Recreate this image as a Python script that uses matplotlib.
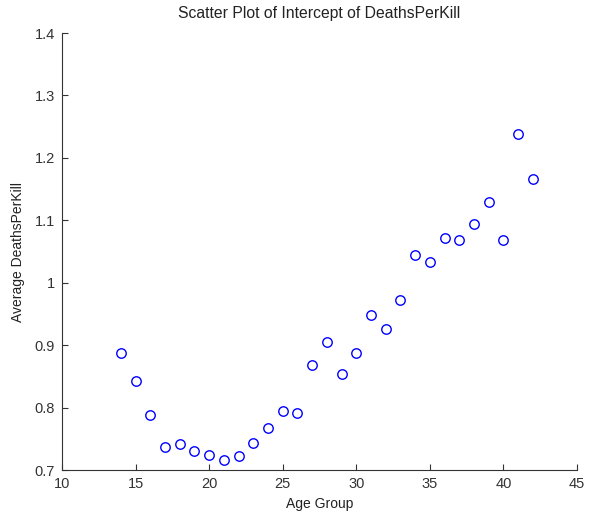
import numpy as np
import matplotlib
matplotlib.use('Agg')
import matplotlib.pyplot as plt

# datos
age = [14, 15, 16, 17, 18, 19, 20, 21, 22, 23, 24, 25, 26, 27, 28,
       29, 30, 31, 32, 33, 34, 35, 36, 37, 38, 39, 40, 41, 42]
deaths = [0.887, 0.843, 0.788, 0.737, 0.742, 0.731, 0.724, 0.716, 0.722,
          0.743, 0.768, 0.795, 0.791, 0.869, 0.905, 0.854, 0.887, 0.948,
          0.926, 0.972, 1.045, 1.033, 1.071, 1.068, 1.094, 1.129, 1.068,
          1.239, 1.166]
xticks = [10, 15, 20, 25, 30, 35, 40, 45]
yticks = [0.7, 0.8, 0.9, 1.0, 1.1, 1.2, 1.3, 1.4]
yticklabels = ['0.7', '0.8', '0.9', '1', '1.1', '1.2', '1.3', '1.4']

plt.rcParams['font.family'] = ['Liberation Sans', 'DejaVu Sans']
plt.rcParams['font.size'] = 10

fig = plt.figure(figsize=(5.9, 5.12), dpi=100)
ax = fig.add_axes([0.105, 0.082, 0.873, 0.8535])

ax.plot(age, deaths, 'o', markerfacecolor='none', markeredgecolor='#0000ff',
        markersize=6.8, markeredgewidth=1.0)

ax.set_xlim(10, 45)
ax.set_ylim(0.7, 1.4)
ax.set_xticks(xticks)
ax.set_yticks(yticks)
ax.set_yticklabels(yticklabels)
ax.tick_params(direction='in', length=4, width=0.8, colors='#333333', pad=5,
               labelsize=10.5)
for s in ['left', 'bottom']:
    ax.spines[s].set_color('#333333')
ax.spines['top'].set_visible(False)
ax.spines['right'].set_visible(False)
ax.set_xlabel('Age Group', labelpad=4, color='#222222')
ax.set_ylabel('Average DeathsPerKill', labelpad=7, color='#222222')
ax.set_title('Scatter Plot of Intercept of DeathsPerKill', pad=11,
             color='#222222', fontsize=11.3)

fig.savefig('out.png', dpi=100)
